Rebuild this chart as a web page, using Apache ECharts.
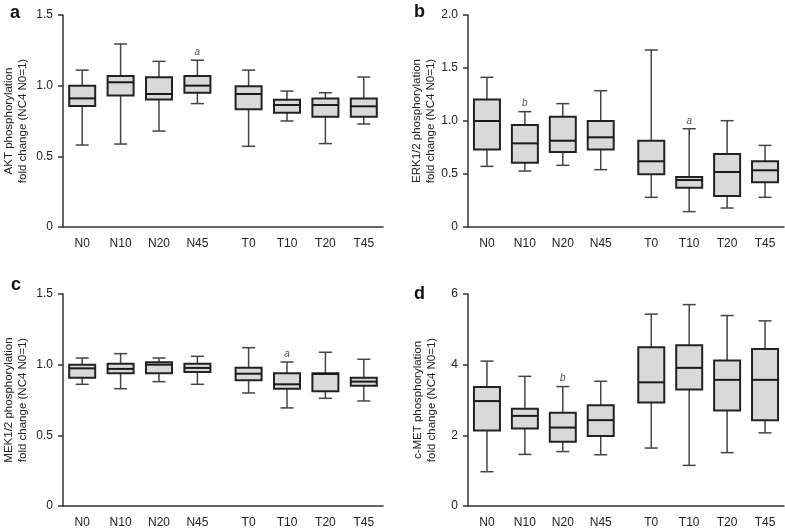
<!DOCTYPE html>
<html>
<head>
<meta charset="utf-8">
<script src="https://cdn.jsdelivr.net/npm/echarts@6/dist/echarts.min.js"></script>
<style>
  html, body { margin: 0; background: #fff; }
  #chart { width: 785px; height: 530px; }
</style>
</head>
<body>
<div id="chart"></div>
<script>
// x categories (two groups: N and T)
const categories = ['N0', 'N10', 'N20', 'N45', 'T0', 'T10', 'T20', 'T45']

// box stats per category: [min, Q1, median, Q3, max]
const aktStats = [
  [0.58, 0.856, 0.91, 1.0, 1.11],
  [0.587, 0.93, 1.024, 1.068, 1.295],
  [0.679, 0.903, 0.941, 1.059, 1.172],
  [0.873, 0.95, 1.0, 1.068, 1.18],
  [0.571, 0.833, 0.941, 0.995, 1.11],
  [0.75, 0.809, 0.863, 0.901, 0.962],
  [0.59, 0.78, 0.863, 0.91, 0.95],
  [0.729, 0.78, 0.854, 0.91, 1.061]
]
const erkStats = [
  [0.572, 0.73, 1.0, 1.204, 1.412],
  [0.528, 0.607, 0.789, 0.962, 1.088],
  [0.582, 0.708, 0.814, 1.041, 1.164],
  [0.541, 0.73, 0.846, 1.0, 1.286],
  [0.28, 0.497, 0.62, 0.814, 1.67],
  [0.145, 0.371, 0.443, 0.472, 0.927],
  [0.179, 0.292, 0.519, 0.689, 1.003],
  [0.28, 0.422, 0.535, 0.62, 0.77]
]
const mekStats = [
  [0.861, 0.908, 0.974, 1.0, 1.047],
  [0.83, 0.939, 0.97, 1.007, 1.078],
  [0.88, 0.939, 1.0, 1.017, 1.047],
  [0.861, 0.948, 0.977, 1.007, 1.059],
  [0.8, 0.889, 0.936, 0.979, 1.12],
  [0.694, 0.83, 0.861, 0.939, 1.019],
  [0.762, 0.812, 0.934, 0.939, 1.088],
  [0.743, 0.851, 0.88, 0.908, 1.038]
]
const cmetStats = [
  [0.97, 2.14, 2.97, 3.37, 4.1],
  [1.46, 2.19, 2.55, 2.75, 3.67],
  [1.54, 1.82, 2.22, 2.64, 3.38],
  [1.45, 1.98, 2.43, 2.85, 3.53],
  [1.64, 2.93, 3.5, 4.49, 5.43],
  [1.15, 3.3, 3.91, 4.55, 5.7],
  [1.51, 2.7, 3.57, 4.12, 5.39],
  [2.07, 2.43, 3.57, 4.44, 5.24]
]

// significance letters shown above the upper whisker
const aktMarks = ['', '', '', 'a', '', '', '', '']
const erkMarks = ['', 'b', '', '', '', 'a', '', '']
const mekMarks = ['', '', '', '', '', 'a', '', '']
const cmetMarks = ['', '', 'b', '', '', '', '', '']

const yTitles = [
  'AKT phosphorylation\nfold change (NC4 N0=1)',
  'ERK1/2 phosphorylation\nfold change (NC4 N0=1)',
  'MEK1/2 phosphorylation\nfold change (NC4 N0=1)',
  'c-MET phosphorylation\nfold change (NC4 N0=1)'
]
const yMax = [1.5, 2.0, 1.5, 6]
const yStep = [0.5, 0.5, 0.5, 2]
const panelLetters = ['a', 'b', 'c', 'd']

const panels = [
  { stats: aktStats, marks: aktMarks },
  { stats: erkStats, marks: erkMarks },
  { stats: mekStats, marks: mekMarks },
  { stats: cmetStats, marks: cmetMarks }
]

const font = "'Liberation Sans', Arial, sans-serif"

// every category takes 3 slots, plus one spare slot between the N and T groups
const slotCount = 25
function slotOf(i) {
  return 1 + 3 * i + (i >= 4 ? 1 : 0)
}
const slotNames = []
for (let s = 0; s < slotCount; s++) slotNames.push('_' + s)
categories.forEach((c, i) => { slotNames[slotOf(i)] = c })

const grids = [
  { left: 63, top: 15, width: 320, height: 212 },
  { left: 468, top: 15, width: 316, height: 212 },
  { left: 63, top: 294, width: 320, height: 212 },
  { left: 468, top: 294, width: 316, height: 212 }
]
const nameGaps = [33, 29, 33, 29]
const letterPos = [[10, 4], [414, 3], [11, 276], [414, 285]]

function renderBox(marks) {
  return function (params, api) {
    const x = api.value(0)
    const ys = [1, 2, 3, 4, 5].map(d => api.coord([x, api.value(d)])[1])
    const cx = api.coord([x, 0])[0]
    const [yMin, yQ1, yMed, yQ3, yMaxV] = ys
    const bw = 13, cw = 6.5
    const wl = { stroke: '#444', lineWidth: 1.5 }
    const children = [
      { type: 'line', shape: { x1: cx, y1: yMaxV, x2: cx, y2: yQ3 }, style: wl },
      { type: 'line', shape: { x1: cx, y1: yQ1, x2: cx, y2: yMin }, style: wl },
      { type: 'line', shape: { x1: cx - cw, y1: yMaxV, x2: cx + cw, y2: yMaxV }, style: wl },
      { type: 'line', shape: { x1: cx - cw, y1: yMin, x2: cx + cw, y2: yMin }, style: wl },
      {
        type: 'rect',
        shape: { x: cx - bw, y: yQ3, width: bw * 2, height: yQ1 - yQ3 },
        style: { fill: '#d9d9d9', stroke: '#222', lineWidth: 2 }
      },
      { type: 'line', shape: { x1: cx - bw, y1: yMed, x2: cx + bw, y2: yMed }, style: { stroke: '#1a1a1a', lineWidth: 2 } }
    ]
    const m = marks[params.dataIndex]
    if (m) {
      children.push({
        type: 'text',
        x: cx,
        y: yMaxV - 8,
        style: {
          text: m, fill: '#555',
          font: 'italic 10px "Liberation Sans", Arial, sans-serif',
          align: 'center', verticalAlign: 'middle', textAlign: 'center', textVerticalAlign: 'middle'
        }
      })
    }
    return { type: 'group', children }
  }
}

const axisLine = { lineStyle: { color: '#333', width: 1.5 } }

const option = {
  animation: false,
  backgroundColor: '#fff',
  title: panelLetters.map((t, k) => ({
    text: t,
    left: letterPos[k][0],
    top: letterPos[k][1],
    padding: 0,
    textStyle: { fontSize: 18, fontWeight: 'bold', color: '#111', fontFamily: font }
  })),
  grid: grids,
  xAxis: grids.map((g, k) => ({
    gridIndex: k,
    type: 'category',
    data: slotNames,
    axisLine: axisLine,
    axisTick: {
      alignWithLabel: true,
      length: 5,
      interval: (i, v) => !String(v).startsWith('_'),
      lineStyle: { color: '#333', width: 1.5 }
    },
    axisLabel: {
      interval: 0,
      margin: 11,
      color: '#222',
      fontSize: 12,
      fontFamily: font,
      formatter: v => (String(v).startsWith('_') ? '' : v)
    },
    splitLine: { show: false }
  })),
  yAxis: grids.map((g, k) => ({
    gridIndex: k,
    type: 'value',
    min: 0,
    max: yMax[k],
    interval: yStep[k],
    axisLine: { show: true, lineStyle: { color: '#333', width: 1.5 } },
    axisTick: { show: true, length: 5, lineStyle: { color: '#333', width: 1.5 } },
    axisLabel: {
      color: '#222',
      fontSize: 12,
      margin: 10,
      fontFamily: font,
      formatter: v => (v === 0 ? '0' : yStep[k] < 1 ? v.toFixed(1) : String(v))
    },
    splitLine: { show: false },
    name: yTitles[k],
    nameLocation: 'middle',
    nameGap: nameGaps[k],
    nameTextStyle: { fontSize: 11.5, lineHeight: 14, color: '#222', fontFamily: font }
  })),
  series: panels.map((p, k) => ({
    type: 'custom',
    xAxisIndex: k,
    yAxisIndex: k,
    encode: { x: 0, y: [1, 2, 3, 4, 5] },
    data: p.stats.map((s, i) => [slotOf(i)].concat(s)),
    renderItem: renderBox(p.marks),
    clip: false
  }))
}

const myChart = echarts.init(document.getElementById('chart'))
myChart.setOption(option)
</script>
</body>
</html>
